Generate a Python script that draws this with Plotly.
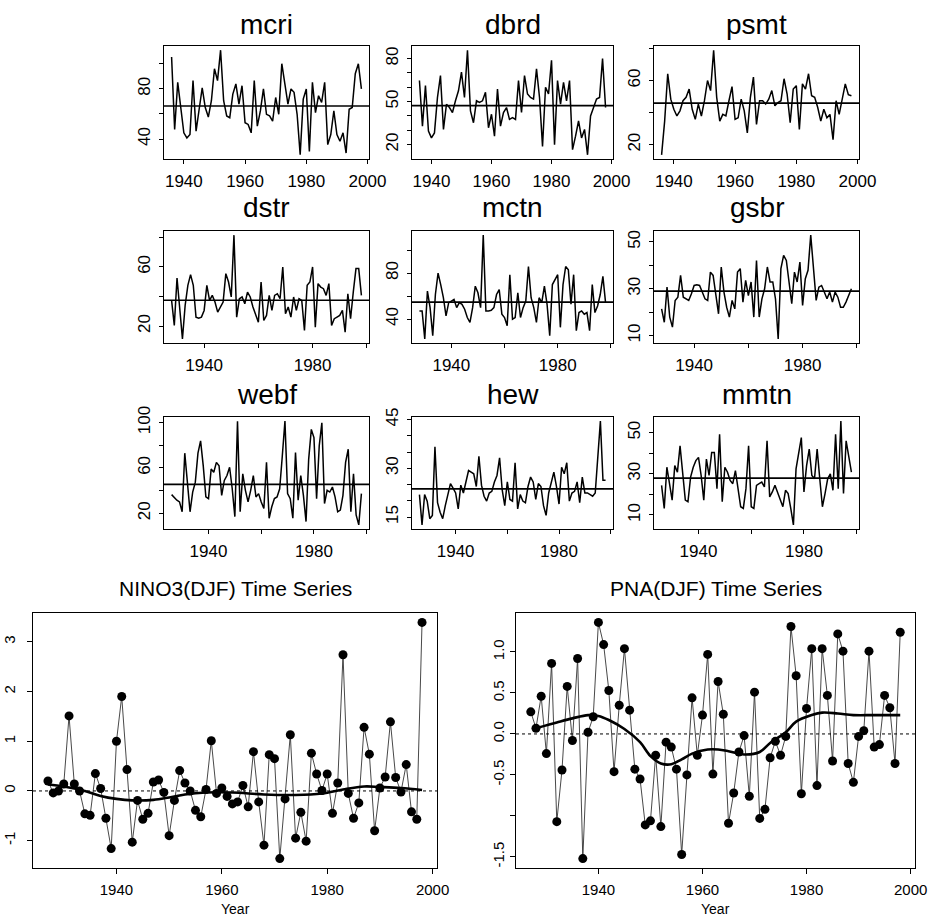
import plotly.graph_objects as go
import numpy as np

W, H = 931, 918
FONT = "Liberation Sans, Arial, Helvetica, sans-serif"

# ---------------- data ----------------
years_top = list(range(1936, 1999))
years_mid = list(range(1928, 1999))
years_bot = list(range(1926, 1999))
years_big = list(range(1927, 1999))

mcri = [105.4, 47.6, 85.2, 65.1, 44.9, 40.9, 43.6, 86.6, 46.3, 63.7,
        80.7, 65.1, 57.5, 70.5, 96.0, 86.6, 110.8, 70.5, 58.4, 57.0,
        75.8, 83.9, 67.8, 82.5, 53.0, 51.6, 44.9, 86.6, 50.3, 62.4,
        79.9, 59.7, 58.4, 54.3, 73.1, 59.7, 100.0, 83.9, 67.8, 79.9,
        77.2, 59.7, 27.4, 71.8, 79.9, 30.1, 85.2, 61.0, 74.5, 69.1,
        85.2, 35.5, 43.6, 62.4, 43.6, 38.2, 44.9, 28.8, 63.7, 65.1,
        92.0, 100.0, 79.9]
dbrd = [64.7, 32.9, 61.2, 29.4, 24.7, 28.2, 52.9, 68.2, 30.6, 48.2,
        45.9, 42.4, 50.6, 57.6, 70.6, 52.9, 85.9, 43.5, 35.3, 50.6,
        49.4, 50.6, 56.5, 31.8, 41.2, 25.9, 58.8, 32.9, 42.4, 45.9,
        37.6, 38.8, 37.6, 64.7, 42.4, 68.2, 55.3, 52.9, 51.8, 72.9,
        52.9, 18.8, 60.0, 55.3, 78.8, 20.0, 64.7, 48.2, 63.5, 50.6,
        64.7, 16.5, 25.9, 36.5, 24.7, 30.6, 12.9, 40.0, 45.9, 51.8,
        52.9, 80.0, 45.9]
psmt = [13.7, 34.7, 64.2, 48.4, 42.1, 37.9, 41.1, 47.4, 49.5, 54.7,
        42.1, 35.8, 45.3, 37.9, 47.4, 60.0, 53.7, 78.9, 49.5, 34.7,
        38.9, 37.9, 47.4, 56.2, 35.8, 36.8, 48.4, 41.1, 27.4, 49.5,
        62.1, 32.6, 47.4, 47.4, 45.3, 48.4, 53.7, 44.2, 46.3, 47.4,
        61.1, 51.6, 33.7, 54.7, 56.8, 29.5, 57.9, 54.7, 64.2, 50.5,
        49.5, 43.2, 34.7, 42.1, 36.8, 38.9, 23.2, 47.4, 38.9, 48.4,
        57.9, 51.2, 50.5]
dstr = [37.4, 20.5, 52.5, 31.8, 11.4, 34.0, 47.6, 54.8, 47.6, 26.1,
        25.4, 26.1, 30.6, 47.6, 37.4, 40.8, 36.3, 29.5, 32.9, 36.3,
        55.5, 49.8, 39.7, 81.5, 26.1, 38.5, 39.7, 35.1, 43.0, 39.7,
        32.9, 27.2, 22.7, 49.8, 23.8, 27.2, 40.8, 30.6, 40.8, 41.9,
        38.5, 60.0, 28.4, 32.9, 26.1, 39.7, 30.6, 38.5, 37.4, 17.1,
        47.6, 49.8, 60.0, 19.3, 48.7, 46.4, 45.3, 40.8, 48.7, 20.5,
        25.0, 26.1, 27.2, 30.6, 15.9, 41.9, 25.0, 43.0, 58.9, 58.9,
        40.8]
mctn = [47.1, 47.1, 22.9, 64.3, 50.0, 25.7, 61.4, 80.0, 70.0, 58.6,
        42.9, 54.3, 55.7, 57.1, 50.0, 54.3, 52.9, 48.6, 41.4, 37.1,
        50.0, 68.6, 62.9, 50.0, 112.9, 47.1, 47.1, 47.7, 50.0, 61.4,
        65.7, 44.3, 41.4, 34.3, 78.6, 40.0, 41.4, 62.9, 41.4, 50.0,
        55.7, 85.7, 58.6, 50.0, 37.1, 58.6, 54.3, 68.6, 52.9, 25.7,
        70.0, 74.3, 78.6, 32.9, 70.0, 85.7, 82.9, 52.9, 78.6, 30.0,
        45.7, 47.1, 44.3, 45.7, 30.0, 70.0, 45.7, 51.4, 61.4, 77.1,
        54.3]
gsbr = [21.4, 15.7, 30.7, 17.9, 13.6, 25.0, 26.4, 35.7, 26.4, 25.7,
        25.0, 27.9, 31.4, 31.7, 31.4, 28.6, 25.7, 25.0, 37.1, 35.7,
        27.1, 19.3, 39.3, 28.6, 22.1, 17.9, 25.0, 21.4, 37.1, 38.6,
        24.3, 33.6, 27.1, 32.9, 17.9, 42.1, 17.9, 25.7, 30.0, 39.3,
        32.9, 32.9, 25.7, 8.6, 38.6, 44.3, 42.1, 31.4, 23.6, 37.1,
        32.9, 41.4, 22.9, 34.3, 37.9, 52.9, 37.1, 25.0, 30.7, 31.4,
        28.6, 25.7, 28.6, 24.3, 28.6, 26.4, 22.1, 22.1, 24.3, 27.1,
        30.0]
webf = [36.5, 33.6, 31.6, 30.1, 21.4, 73.0, 44.6, 21.4, 38.8, 47.5,
        73.0, 83.8, 62.0, 34.5, 33.0, 59.1, 56.2, 64.9, 62.0, 35.9,
        49.0, 53.3, 60.6, 41.7, 17.1, 101.2, 21.4, 54.8, 40.3, 30.1,
        40.3, 53.3, 34.5, 37.4, 30.1, 24.3, 64.9, 15.7, 25.8, 33.0,
        34.5, 41.7, 70.7, 101.2, 37.4, 33.0, 15.7, 73.6, 31.6, 53.3,
        35.9, 12.8, 67.8, 93.9, 86.7, 33.0, 79.4, 99.7, 28.7, 40.3,
        38.8, 43.2, 34.5, 21.4, 22.9, 35.9, 64.9, 76.5, 21.4, 54.8,
        18.6, 9.9, 37.4]
hew = [21.9, 12.6, 21.9, 19.9, 14.5, 15.5, 36.6, 19.4, 16.5, 14.5,
       18.5, 21.9, 25.3, 23.9, 22.4, 17.5, 24.8, 22.4, 25.8, 29.3,
       28.8, 28.3, 24.4, 33.7, 24.8, 21.4, 19.9, 22.4, 22.9, 25.8,
       27.8, 33.2, 23.4, 18.5, 25.8, 20.4, 19.9, 31.7, 17.5, 21.9,
       19.9, 19.4, 24.4, 27.3, 25.8, 20.4, 25.3, 24.4, 18.5, 15.5,
       22.4, 25.8, 28.8, 24.4, 19.0, 30.3, 28.3, 31.7, 19.9, 22.4,
       22.9, 25.8, 19.4, 27.3, 22.4, 22.4, 21.9, 21.4, 22.4, 32.2,
       44.5, 26.3, 26.3]
mmtn = [24.4, 13.2, 33.2, 24.4, 17.2, 34.0, 30.8, 43.6, 30.0, 17.2,
        16.4, 28.4, 33.2, 36.4, 38.0, 29.2, 17.2, 37.2, 29.2, 40.4,
        40.4, 22.8, 49.2, 16.4, 33.2, 30.8, 26.8, 25.2, 31.6, 22.8,
        14.0, 13.2, 22.8, 43.6, 14.0, 13.2, 24.4, 25.2, 26.0, 23.6,
        46.0, 18.8, 21.2, 24.4, 21.2, 18.0, 14.0, 22.0, 20.4, 13.2,
        5.2, 32.4, 40.4, 47.6, 21.2, 34.0, 42.0, 29.2, 27.6, 42.0,
        27.6, 14.0, 20.4, 27.6, 30.0, 22.0, 49.2, 22.8, 55.6, 20.4,
        46.0, 37.2, 30.8]

nino3 = [0.20, -0.04, 0.00, 0.14, 1.51, 0.14, 0.00, -0.46, -0.49, 0.35,
         0.05, -0.55, -1.16, 1.00, 1.90, 0.43, -1.03, -0.19, -0.57, -0.45,
         0.18, 0.22, -0.03, -0.90, -0.19, 0.41, 0.16, 0.00, -0.39, -0.52,
         0.03, 1.01, -0.05, 0.06, -0.11, -0.26, -0.22, 0.11, -0.32, 0.79,
         -0.22, -1.09, 0.73, 0.65, -1.36, -0.16, 1.13, -0.95, -0.43, -1.01,
         0.76, 0.34, 0.01, 0.34, -0.45, 0.16, 2.74, -0.05, -0.55, -0.24,
         1.28, 0.74, -0.80, 0.06, 0.28, 1.39, 0.27, -0.02, 0.53, -0.42,
         -0.57, 3.39]
pna = [0.27, 0.07, 0.46, -0.24, 0.86, -1.07, -0.44, 0.58, -0.08, 0.92,
       -1.52, 0.02, 0.21, 1.36, 1.09, 0.53, -0.46, 0.35, 1.04, 0.29,
       -0.43, -0.55, -1.11, -1.06, -0.26, -1.13, -0.10, -0.16, -0.43, -1.47,
       -0.50, 0.44, -0.26, 0.23, 0.97, -0.49, 0.64, 0.24, -1.09, -0.72,
       -0.22, -0.02, -0.76, 0.51, -1.03, -0.92, -0.29, -0.09, -0.26, -0.03,
       1.31, 0.71, -0.73, 0.31, 1.04, -0.63, 1.04, 0.47, -0.33, 1.22,
       1.01, -0.36, -0.59, -0.03, 0.04, 1.01, -0.16, -0.13, 0.47, 0.32,
       -0.36, 1.24]

nino3_smooth_years = [1927, 1930, 1934, 1937, 1940, 1943, 1947, 1950, 1953, 1957,
                      1962, 1968, 1974, 1979, 1983, 1987, 1990, 1994, 1998]
nino3_smooth = [0.13, 0.09, 0.00, -0.10, -0.16, -0.19, -0.18, -0.13, -0.07, -0.03,
                -0.03, -0.07, -0.08, -0.05, 0.03, 0.09, 0.08, 0.06, 0.02]
pna_smooth_years = [1928, 1932, 1935, 1938, 1940, 1942, 1945, 1948, 1950, 1952,
                    1954, 1956, 1958, 1961, 1963, 1965, 1968, 1971, 1973, 1976,
                    1978, 1981, 1983, 1986, 1989, 1993, 1998]
pna_smooth = [0.07, 0.14, 0.19, 0.23, 0.22, 0.17, 0.06, -0.10, -0.27, -0.36,
              -0.37, -0.31, -0.24, -0.19, -0.19, -0.21, -0.25, -0.22, -0.11, 0.02,
              0.15, 0.23, 0.26, 0.25, 0.23, 0.23, 0.23]

# tick values / labels
x_ticks = [1940, 1960, 1980, 2000]
x_labels_full = ["1940", "1960", "1980", "2000"]
x_labels_sparse = ["1940", "", "1980", ""]

mcri_ticks, mcri_labels = [40, 60, 80, 100], ["40", "", "80", ""]
dbrd_ticks, dbrd_labels = [20, 30, 40, 50, 60, 70, 80], ["20", "", "", "50", "", "", "80"]
psmt_ticks, psmt_labels = [20, 40, 60, 80], ["20", "", "60", ""]
dstr_ticks, dstr_labels = [20, 40, 60, 80], ["20", "", "60", ""]
mctn_ticks, mctn_labels = [40, 60, 80, 100], ["40", "", "80", ""]
gsbr_ticks, gsbr_labels = [10, 20, 30, 40, 50], ["10", "", "30", "", "50"]
webf_ticks, webf_labels = [20, 40, 60, 80, 100], ["20", "", "60", "", "100"]
hew_ticks, hew_labels = [15, 20, 25, 30, 35, 40, 45], ["15", "", "", "30", "", "", "45"]
mmtn_ticks, mmtn_labels = [10, 20, 30, 40, 50], ["10", "", "30", "", "50"]

nino3_ticks, nino3_labels = [-1, 0, 1, 2, 3], ["-1", "0", "1", "2", "3"]
pna_ticks, pna_labels = [-1.5, -1.0, -0.5, 0.0, 0.5, 1.0], ["-1.5", "", "-0.5", "0.0", "0.5", "1.0"]

# ---------------- helpers ----------------
def pad_range(lo, hi, f=0.04):
    d = (hi - lo) * f
    return [lo - d, hi + d]

def xdom(x0, x1):
    return [x0 / W, x1 / W]

def ydom(y0, y1):  # pixel top, pixel bottom
    return [1 - y1 / H, 1 - y0 / H]

axis_common = dict(showline=True, linecolor="black", linewidth=1, mirror=True,
                   ticks="outside", ticklen=4, tickwidth=1, tickcolor="black",
                   showgrid=False, zeroline=False, automargin=False,
                   tickfont=dict(family=FONT, size=17, color="black"))

fig = go.Figure()
layout = dict(template="none", width=W, height=H,
              margin=dict(l=0, r=0, t=0, b=0, pad=0, autoexpand=False),
              paper_bgcolor="white", plot_bgcolor="white", showlegend=False,
              font=dict(family=FONT, color="black"))
shapes, annotations = [], []

cols = [(164, 369), (412, 613), (654, 859)]
rows = [(46, 159, 24), (231, 343, 208), (417, 529, 394)]

small = [
    ("mcri", years_top, mcri, mcri_ticks, mcri_labels, 0, 0),
    ("dbrd", years_top, dbrd, dbrd_ticks, dbrd_labels, 0, 1),
    ("psmt", years_top, psmt, psmt_ticks, psmt_labels, 0, 2),
    ("dstr", years_mid, dstr, dstr_ticks, dstr_labels, 1, 0),
    ("mctn", years_mid, mctn, mctn_ticks, mctn_labels, 1, 1),
    ("gsbr", years_mid, gsbr, gsbr_ticks, gsbr_labels, 1, 2),
    ("webf", years_bot, webf, webf_ticks, webf_labels, 2, 0),
    ("hew", years_bot, hew, hew_ticks, hew_labels, 2, 1),
    ("mmtn", years_bot, mmtn, mmtn_ticks, mmtn_labels, 2, 2),
]

for k, (name, yrs, vals, yt, yl, r, c) in enumerate(small, start=1):
    sfx = "" if k == 1 else str(k)
    x0, x1 = cols[c]
    y0, y1, ty = rows[r]
    layout["xaxis" + sfx] = dict(axis_common, domain=xdom(x0, x1), anchor="y" + sfx,
                                 range=pad_range(yrs[0], yrs[-1]),
                                 tickvals=x_ticks,
                                 ticktext=x_labels_full if r == 0 else x_labels_sparse,
                                 ticklabelstandoff=3)
    layout["yaxis" + sfx] = dict(axis_common, domain=ydom(y0, y1), anchor="x" + sfx,
                                 range=pad_range(min(vals), max(vals)),
                                 tickvals=yt, ticktext=yl, tickangle=-90,
                                 ticklabelstandoff=2)
    fig.add_trace(go.Scatter(x=yrs, y=vals, mode="lines", xaxis="x" + sfx, yaxis="y" + sfx,
                             line=dict(color="black", width=1.5), hoverinfo="skip"))
    m = float(np.mean(vals))
    shapes.append(dict(type="line", xref=f"x{sfx} domain", yref=f"y{sfx}",
                       x0=0, x1=1, y0=m, y1=m, line=dict(color="black", width=1.7)))
    annotations.append(dict(text=name, xref="paper", yref="paper",
                            x=(x0 + x1) / 2 / W, y=1 - ty / H, showarrow=False,
                            xanchor="center", yanchor="middle",
                            font=dict(family=FONT, size=28, color="black")))

big = [
    ("NINO3(DJF) Time Series", nino3, nino3_ticks, nino3_labels,
     nino3_smooth_years, nino3_smooth, (33, 437), 6),
    ("PNA(DJF) Time Series", pna, pna_ticks, pna_labels,
     pna_smooth_years, pna_smooth, (516, 915), 0),
]
big_common = dict(axis_common, tickfont=dict(family=FONT, size=15, color="black"), ticklen=5)
for j, (title, vals, yt, yl, sy, sv, (x0, x1), ystand) in enumerate(big):
    k = 10 + j
    sfx = str(k)
    y0, y1 = 613, 868
    layout["xaxis" + sfx] = dict(big_common, domain=xdom(x0, x1), anchor="y" + sfx,
                                 range=pad_range(years_big[0], years_big[-1]),
                                 tickvals=x_ticks, ticktext=x_labels_full,
                                 ticklabelstandoff=3)
    layout["yaxis" + sfx] = dict(big_common, domain=ydom(y0, y1), anchor="x" + sfx,
                                 range=pad_range(min(vals), max(vals)),
                                 tickvals=yt, ticktext=yl, tickangle=-90,
                                 ticklabelstandoff=ystand)
    shapes.append(dict(type="line", xref=f"x{sfx} domain", yref=f"y{sfx}",
                       x0=0, x1=1, y0=0, y1=0,
                       line=dict(color="black", width=1, dash="dot")))
    fig.add_trace(go.Scatter(x=years_big, y=vals, mode="lines", xaxis="x" + sfx, yaxis="y" + sfx,
                             line=dict(color="#333", width=0.9), hoverinfo="skip"))
    fig.add_trace(go.Scatter(x=years_big, y=vals, mode="markers", xaxis="x" + sfx, yaxis="y" + sfx,
                             marker=dict(color="black", size=9, line=dict(width=0)),
                             hoverinfo="skip"))
    fig.add_trace(go.Scatter(x=sy, y=sv, mode="lines", xaxis="x" + sfx, yaxis="y" + sfx,
                             line=dict(color="black", width=2.6, shape="spline", smoothing=1.0),
                             hoverinfo="skip"))
    annotations.append(dict(text=title, xref="paper", yref="paper",
                            x=(x0 + x1) / 2 / W, y=1 - 588 / H, showarrow=False,
                            xanchor="center", yanchor="middle",
                            font=dict(family=FONT, size=21, color="black")))
    annotations.append(dict(text="Year", xref="paper", yref="paper",
                            x=(x0 + x1) / 2 / W, y=1 - 909 / H, showarrow=False,
                            xanchor="center", yanchor="middle",
                            font=dict(family=FONT, size=14, color="black")))

layout["shapes"] = shapes
layout["annotations"] = annotations
fig.update_layout(**layout)
fig.write_html("out.html")
